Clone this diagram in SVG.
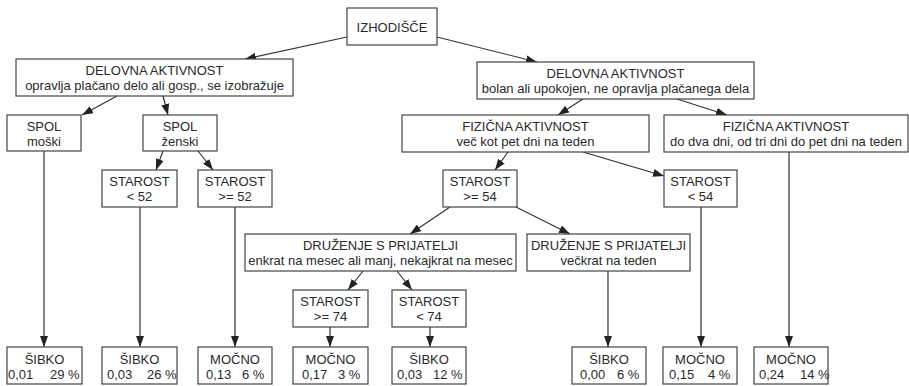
<svg xmlns="http://www.w3.org/2000/svg" width="909" height="386" viewBox="0 0 909 386">
<style>
rect.b{fill:#fff;stroke:#444;stroke-width:1.2}
text{font-family:"Liberation Sans",Arial,sans-serif;font-size:13px;fill:#2a2a2a;text-anchor:middle}
text.l{text-anchor:start}
.c line{stroke:#333;stroke-width:1.2;marker-end:url(#ah)}
</style>
<defs>
<marker id="ah" markerUnits="userSpaceOnUse" markerWidth="11" markerHeight="8" refX="11" refY="4" orient="auto">
<path d="M0,0 L11,4 L0,8 z" fill="#222"/>
</marker>
</defs>
<rect width="909" height="386" fill="#fff"/>
<g class="c" id="connectors">
<line x1="347" y1="37" x2="245" y2="59"/>
<line x1="437" y1="37" x2="537" y2="62"/>
<line x1="117" y1="96" x2="82" y2="115"/>
<line x1="163" y1="96" x2="168" y2="115"/>
<line x1="163" y1="151" x2="156" y2="170"/>
<line x1="198" y1="151" x2="213" y2="170"/>
<line x1="44" y1="151" x2="44" y2="347"/>
<line x1="140" y1="207" x2="140" y2="347"/>
<line x1="235" y1="207" x2="235" y2="347"/>
<line x1="583" y1="99" x2="558" y2="115"/>
<line x1="677" y1="99" x2="727" y2="115"/>
<line x1="508" y1="152" x2="495" y2="170"/>
<line x1="583" y1="152" x2="664" y2="176"/>
<line x1="789" y1="152" x2="789" y2="347"/>
<line x1="450" y1="207" x2="410" y2="234"/>
<line x1="516" y1="207" x2="570" y2="234"/>
<line x1="363" y1="271" x2="348" y2="290"/>
<line x1="397" y1="271" x2="412" y2="290"/>
<line x1="330" y1="327" x2="330" y2="347"/>
<line x1="430" y1="327" x2="430" y2="347"/>
<line x1="608" y1="271" x2="608" y2="347"/>
<line x1="701" y1="207" x2="701" y2="347"/>
</g>
<g id="n0"><rect class="b" x="347" y="8" width="90" height="37"/><text x="392" y="31.5">IZHODIŠČE</text></g>
<g id="n1"><rect class="b" x="16" y="59" width="277" height="37"/><text x="154.5" y="75">DELOVNA AKTIVNOST</text><text x="154.5" y="90">opravlja plačano delo ali gosp., se izobražuje</text></g>
<g id="n2"><rect class="b" x="477" y="62" width="277" height="37"/><text x="615.5" y="78">DELOVNA AKTIVNOST</text><text x="615.5" y="93">bolan ali upokojen, ne opravlja plačanega dela</text></g>
<g id="n3"><rect class="b" x="7" y="115" width="74" height="36"/><text x="44" y="131">SPOL</text><text x="44" y="146">moški</text></g>
<g id="n4"><rect class="b" x="143" y="115" width="74" height="36"/><text x="180" y="131">SPOL</text><text x="180" y="146">ženski</text></g>
<g id="n5"><rect class="b" x="402" y="115" width="247" height="37"/><text x="525.5" y="131">FIZIČNA AKTIVNOST</text><text x="525.5" y="146">več kot pet dni na teden</text></g>
<g id="n6"><rect class="b" x="664" y="115" width="244" height="37"/><text x="786" y="131">FIZIČNA AKTIVNOST</text><text x="786" y="146">do dva dni, od tri dni do pet dni na teden</text></g>
<g id="n7"><rect class="b" x="102" y="170" width="75" height="37"/><text x="139.5" y="186">STAROST</text><text x="139.5" y="201">&lt; 52</text></g>
<g id="n8"><rect class="b" x="198" y="170" width="74" height="37"/><text x="235" y="186">STAROST</text><text x="235" y="201">&gt;= 52</text></g>
<g id="n9"><rect class="b" x="443" y="170" width="74" height="37"/><text x="480" y="186">STAROST</text><text x="480" y="201">&gt;= 54</text></g>
<g id="n10"><rect class="b" x="664" y="170" width="73" height="37"/><text x="700.5" y="186">STAROST</text><text x="700.5" y="201">&lt; 54</text></g>
<g id="n11"><rect class="b" x="245" y="234" width="271" height="37"/><text x="380.5" y="250">DRUŽENJE S PRIJATELJI</text><text x="380.5" y="265">enkrat na mesec ali manj, nekajkrat na mesec</text></g>
<g id="n12"><rect class="b" x="527" y="234" width="163" height="37"/><text x="608.5" y="250">DRUŽENJE S PRIJATELJI</text><text x="608.5" y="265">večkrat na teden</text></g>
<g id="n13"><rect class="b" x="293" y="290" width="75" height="37"/><text x="330.5" y="306">STAROST</text><text x="330.5" y="321">&gt;= 74</text></g>
<g id="n14"><rect class="b" x="392" y="290" width="74" height="37"/><text x="429" y="306">STAROST</text><text x="429" y="321">&lt; 74</text></g>
<g id="leaf1"><rect class="b" x="7" y="347" width="75" height="37"/><text x="44.5" y="364">ŠIBKO</text><text class="l" y="379"><tspan x="8">0,01</tspan> <tspan x="50">29 %</tspan></text></g>
<g id="leaf2"><rect class="b" x="102" y="347" width="75" height="37"/><text x="139.5" y="364">ŠIBKO</text><text class="l" y="379"><tspan x="107">0,03</tspan> <tspan x="147">26 %</tspan></text></g>
<g id="leaf3"><rect class="b" x="198" y="347" width="74" height="37"/><text x="235" y="364">MOČNO</text><text class="l" y="379"><tspan x="206">0,13</tspan> <tspan x="242">6 %</tspan></text></g>
<g id="leaf4"><rect class="b" x="293" y="347" width="75" height="37"/><text x="330.5" y="364">MOČNO</text><text class="l" y="379"><tspan x="302">0,17</tspan> <tspan x="338">3 %</tspan></text></g>
<g id="leaf5"><rect class="b" x="392" y="347" width="74" height="37"/><text x="429" y="364">ŠIBKO</text><text class="l" y="379"><tspan x="397">0,03</tspan> <tspan x="433">12 %</tspan></text></g>
<g id="leaf6"><rect class="b" x="572" y="347" width="74" height="37"/><text x="609" y="364">ŠIBKO</text><text class="l" y="379"><tspan x="580">0,00</tspan> <tspan x="617">6 %</tspan></text></g>
<g id="leaf7"><rect class="b" x="663" y="347" width="74" height="37"/><text x="700" y="364">MOČNO</text><text class="l" y="379"><tspan x="669">0,15</tspan> <tspan x="708">4 %</tspan></text></g>
<g id="leaf8"><rect class="b" x="754" y="347" width="74" height="37"/><text x="791" y="364">MOČNO</text><text class="l" y="379"><tspan x="759">0,24</tspan> <tspan x="800">14 %</tspan></text></g>
</svg>
